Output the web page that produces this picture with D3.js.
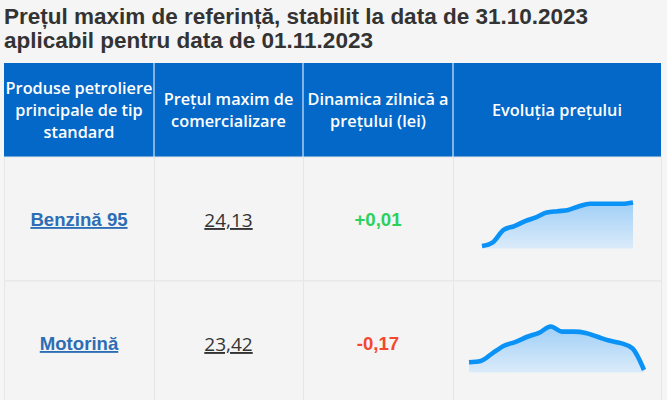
<!DOCTYPE html>
<html>
<head>
<meta charset="utf-8">
<script src="https://cdn.jsdelivr.net/npm/d3@7"></script>
<style>
  html, body { margin: 0; padding: 0; background: #f5f5f5; }
  svg { display: block; }
</style>
</head>
<body>
<div id="svg-container"></div>
<script>
////////////////////////////////////////////////////////////////////
////////////////////////////  Data  ////////////////////////////////
const titleLines = [
  "Prețul maxim de referință, stabilit la data de 31.10.2023",
  "aplicabil pentru data de 01.11.2023",
];
const headers = [
  ["Produse petroliere", "principale de tip", "standard"],
  ["Prețul maxim de", "comercializare"],
  ["Dinamica zilnică a", "prețului (lei)"],
  ["Evoluția prețului"],
];
const products = ["Benzină 95", "Motorină"];
const prices = ["24,13", "23,42"];
const changes = [0.01, -0.17];
// daily price history (lei)
const benzinaHistory = [23.78, 23.81, 23.91, 23.94, 23.98, 24.01, 24.05, 24.06,
  24.07, 24.10, 24.12, 24.12, 24.12, 24.12, 24.13];
const motorinaHistory = [23.48, 23.49, 23.55, 23.61, 23.64, 23.68, 23.71, 23.76,
  23.72, 23.72, 23.71, 23.68, 23.65, 23.63, 23.59, 23.42];
const histories = [benzinaHistory, motorinaHistory];

////////////////////////////////////////////////////////////////////
////////////////////////////  Layout  //////////////////////////////
const width = 667;
const height = 400;
const colEdges = [4, 154, 303, 453, 661];
const headTop = 63, headBottom = 157, rowHeight = 124;
// sparkline x-extent per row
const sparkX = [[482, 633], [469, 644]];

const svg = d3.select("#svg-container").append("svg")
  .attr("width", width).attr("height", height);

svg.append("rect").attr("width", width).attr("height", height).attr("fill", "#f5f5f5");

// title
svg.append("g").selectAll("text")
  .data(titleLines)
  .enter().append("text")
  .attr("x", 4)
  .attr("y", (d, i) => 24 + i * 24)
  .attr("font-family", "'Liberation Sans', Arial, sans-serif")
  .attr("font-weight", "bold")
  .attr("font-size", 22.5)
  .attr("fill", "#333")
  .text((d) => d);

// header
svg.append("rect")
  .attr("x", colEdges[0]).attr("y", headTop)
  .attr("width", colEdges[4] - colEdges[0]).attr("height", headBottom - headTop)
  .attr("fill", "#0368c8");

const headG = svg.append("g");
headers.forEach((lines, c) => {
  const cx = (colEdges[c] + colEdges[c + 1]) / 2;
  const mid = (headTop + headBottom) / 2;
  const t = headG.append("text")
    .attr("text-anchor", "middle")
    .attr("font-family", "'Open Sans', sans-serif")
    .attr("font-weight", 600)
    .attr("font-size", 16.3)
    .attr("fill", "#fff");
  lines.forEach((l, i) => {
    t.append("tspan")
      .attr("x", cx)
      .attr("y", mid + 6 + (i - (lines.length - 1) / 2) * 22)
      .text(l);
  });
  if (c > 0) {
    headG.append("line")
      .attr("x1", colEdges[c]).attr("x2", colEdges[c])
      .attr("y1", headTop).attr("y2", headBottom)
      .attr("stroke", "#fff").attr("stroke-width", 1);
  }
});

// body rows
const rowTop = (i) => headBottom + i * rowHeight;

svg.append("g").selectAll("rect")
  .data(products)
  .enter().append("rect")
  .attr("x", colEdges[0] + 0.5)
  .attr("y", (d, i) => rowTop(i))
  .attr("width", colEdges[4] - colEdges[0])
  .attr("height", rowHeight)
  .attr("fill", "#f4f4f4")
  .attr("stroke", "#e6e6e6");

const grid = svg.append("g").attr("stroke", "#e6e6e6");
colEdges.slice(1, 4).forEach((x) => {
  grid.append("line").attr("x1", x + 0.5).attr("x2", x + 0.5)
    .attr("y1", headBottom).attr("y2", height);
});

const colMid = (c) => (colEdges[c] + colEdges[c + 1]) / 2;

svg.append("g").selectAll("text")
  .data(products)
  .enter().append("text")
  .attr("x", colMid(0))
  .attr("y", (d, i) => rowTop(i) + 69)
  .attr("text-anchor", "middle")
  .attr("font-family", "'Liberation Sans', Arial, sans-serif")
  .attr("font-weight", "bold")
  .attr("font-size", 18.6)
  .attr("fill", "#2d6db5")
  .attr("text-decoration", "underline")
  .text((d) => d);

svg.append("g").selectAll("text")
  .data(prices)
  .enter().append("text")
  .attr("x", colMid(1))
  .attr("y", (d, i) => rowTop(i) + 70)
  .attr("text-anchor", "middle")
  .attr("font-family", "'Open Sans', sans-serif")
  .attr("font-size", 19)
  .attr("fill", "#333")
  .attr("text-decoration", "underline")
  .text((d) => d);

const fmt = (v) => (v > 0 ? "+" : "-") + d3.format(".2f")(Math.abs(v)).replace(".", ",");
svg.append("g").selectAll("text")
  .data(changes)
  .enter().append("text")
  .attr("x", colMid(2))
  .attr("y", (d, i) => rowTop(i) + 69)
  .attr("text-anchor", "middle")
  .attr("font-family", "'Liberation Sans', Arial, sans-serif")
  .attr("font-weight", "bold")
  .attr("font-size", 18.6)
  .attr("fill", (d) => (d >= 0 ? "#2ad15a" : "#f4472c"))
  .text(fmt);

// sparklines
const defs = svg.append("defs");
const grad = defs.append("linearGradient")
  .attr("id", "spark-fill").attr("x1", 0).attr("x2", 0).attr("y1", 0).attr("y2", 1);
grad.append("stop").attr("offset", "0%").attr("stop-color", "#9fcff6");
grad.append("stop").attr("offset", "100%").attr("stop-color", "#dbebfa");

histories.forEach((hist, r) => {
  const top = rowTop(r);
  const x = d3.scaleLinear().domain([0, hist.length - 1]).range(sparkX[r]);
  const y = d3.scaleLinear().domain(d3.extent(hist)).range([top + 89, top + 45.5]);
  const base = top + 91.5;

  svg.append("path")
    .datum(hist)
    .attr("d", d3.area().x((d, i) => x(i)).y0(base).y1((d) => y(d)).curve(d3.curveMonotoneX))
    .attr("fill", "url(#spark-fill)");

  svg.append("path")
    .datum(hist)
    .attr("d", d3.line().x((d, i) => x(i)).y((d) => y(d)).curve(d3.curveMonotoneX))
    .attr("fill", "none")
    .attr("stroke", "#0a92f6")
    .attr("stroke-width", 4.6)
    .attr("stroke-linejoin", "round");
});
</script>
</body>
</html>
